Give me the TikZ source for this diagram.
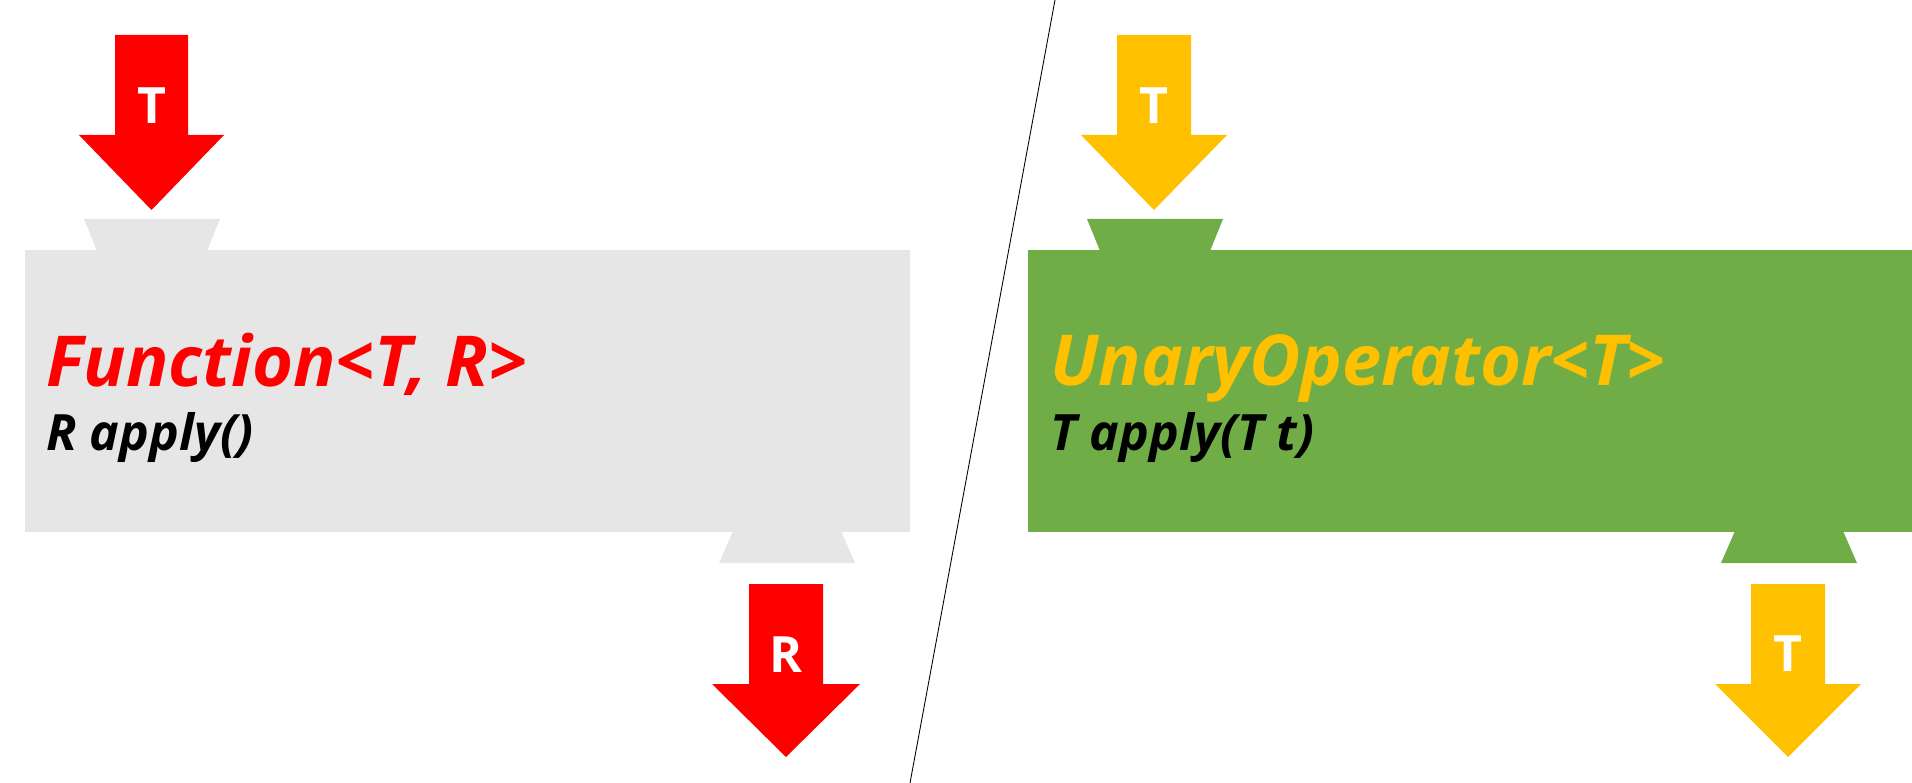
\documentclass[tikz,border=0pt]{standalone}
\usepackage{fontspec}
\newfontfamily\diagfont{Open Sans}
\definecolor{fnred}{RGB}{255,0,0}
\definecolor{fngray}{RGB}{230,230,230}
\definecolor{uogreen}{RGB}{112,173,71}
\definecolor{uogold}{RGB}{255,192,0}

\begin{document}
\begin{tikzpicture}[
  x=0.02cm, y=-0.02cm,
  lbl/.style={text=white, inner sep=0pt, font=\diagfont\bfseries\fontsize{28.5}{30}\selectfont},
  ttl/.style={anchor=base west, inner sep=0pt, font=\diagfont\bfseries\itshape\fontsize{40}{42}\selectfont},
  sig/.style={anchor=base west, inner sep=0pt, font=\diagfont\bfseries\itshape\fontsize{28.5}{30}\selectfont},
]
\useasboundingbox (0,0) rectangle (1912,783);

\fill [fngray] (25,250) rectangle (910,532);
\fill [fngray] (84,219) -- (220,219) -- (207,251) -- (97,251) -- cycle;
\fill [fngray] (733,531) -- (841,531) -- (855,563) -- (719,563) -- cycle;

\fill [uogreen] (1028,250) rectangle (1912,532);
\fill [uogreen] (1087,219) -- (1223,219) -- (1210,251) -- (1100,251) -- cycle;
\fill [uogreen] (1735,531) -- (1843,531) -- (1857,563) -- (1721,563) -- cycle;

\fill [fnred] (115,35) -- (188,35) -- (188,135) -- (224,135) -- (151.5,210) -- (79,135) -- (115,135) -- cycle;
\fill [fnred] (749,584) -- (823,584) -- (823,684) -- (860,684) -- (786,757) -- (712,684) -- (749,684) -- cycle;
\fill [uogold] (1117,35) -- (1191,35) -- (1191,135) -- (1227,135) -- (1154,210) -- (1081,135) -- (1117,135) -- cycle;
\fill [uogold] (1751,584) -- (1825,584) -- (1825,684) -- (1861,684) -- (1788,757) -- (1715,684) -- (1751,684) -- cycle;

\node (fnin) [lbl] at (151.5,106) {T};
\node (fnout) [lbl] at (786,655) {R};
\node (uoin) [lbl] at (1154,106) {T};
\node (uoout) [lbl] at (1788,654) {T};

\node (fnname) [ttl, text=fnred] at (46,387) {Function<T, R>};
\node (fnsig) [sig] at (46,450) {R apply()};
\node (uoname) [ttl, text=uogold] at (1050,386) {UnaryOperator<T>};
\node (uosig) [sig] at (1050,450) {T apply(T t)};

\draw [line width=0.5pt] (1055,0) -- (910,783);

\end{tikzpicture}
\end{document}
